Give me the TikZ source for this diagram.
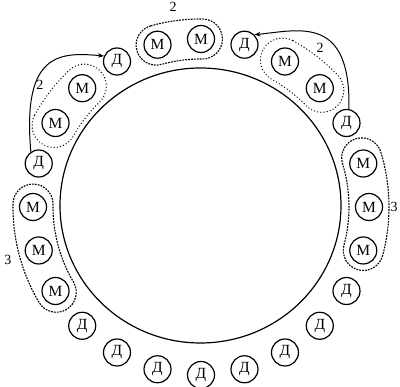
\documentclass[tikz,border=0pt]{standalone}
\usepackage{fontspec}
\setmainfont{Liberation Serif}
\usetikzlibrary{arrows.meta}
\newcommand\ringgroup[4]{%
  \draw[#4,shift={(201,180)}] (#2:{168+#3}) arc[start angle=#2, end angle=#1, radius={168+#3}]
    arc[start angle=#1, end angle={#1-180}, radius=#3]
    arc[start angle=#1, end angle=#2, radius={168-#3}]
    arc[start angle={#2+180}, end angle=#2, radius=#3] -- cycle;}
\begin{document}
\begin{tikzpicture}[x=1pt,y=1pt,
  sm/.style={draw, circle, line width=1.2pt, minimum size=27pt, inner sep=0pt, font=\fontsize{15.5}{15.5}\selectfont},
  lbl/.style={font=\fontsize{14}{14}\selectfont, inner sep=0pt},
  dashgrp/.style={line width=1.1pt, dash pattern=on 1.8pt off 1.1pt},
  dotgrp/.style={line width=1.4pt, line cap=round, dash pattern=on 0pt off 3.2pt},
  arr/.style={line width=1pt, -{Stealth[length=6pt,width=4.5pt]}}]
\useasboundingbox (0,0) rectangle (400,387);
\draw[line width=1.2pt] (200.5,181.5) ellipse [x radius=140.5, y radius=137.5];
\foreach \a/\t/\n in {15/М/m15, 0/М/m0, -15/М/mm15, -30/Д/dm30, -45/Д/dm45, -60/Д/dm60,
  -75/Д/dm75, -90/Д/dm90, -105/Д/dm105, -120/Д/dm120, -135/Д/dm135, 210/М/m210,
  195/М/m195, 180/М/m180, 165/Д/d165, 150/М/m150, 135/М/m135, 120/Д/d120,
  105/М/m105, 90/М/m90, 75/Д/d75, 60/М/m60, 45/М/m45, 30/Д/d30}
  \node[sm] (\n) at ({201+168*cos(\a)},{180+168*sin(\a)}) {\t};
\ringgroup{-15}{17}{20}{dashgrp}
\ringgroup{179}{210.5}{20}{dashgrp}
\ringgroup{89.5}{105.5}{20}{dashgrp}
\ringgroup{134}{151}{22}{dotgrp}
\ringgroup{44}{61}{22}{dotgrp}
\node[lbl] (l1) at (173,380) {2};
\node[lbl] (l2) at (40,302) {2};
\node[lbl] (l3) at (320,339) {2};
\node[lbl] (l4) at (8,127) {3};
\node[lbl] (l5) at (394,180) {3};
\draw[arr] (d165.124) .. controls (22,335) and (60,335) .. (d120.157);
\draw[arr] (d30.80) .. controls (351,372) and (300,357) .. (d75.45);
\end{tikzpicture}
\end{document}
